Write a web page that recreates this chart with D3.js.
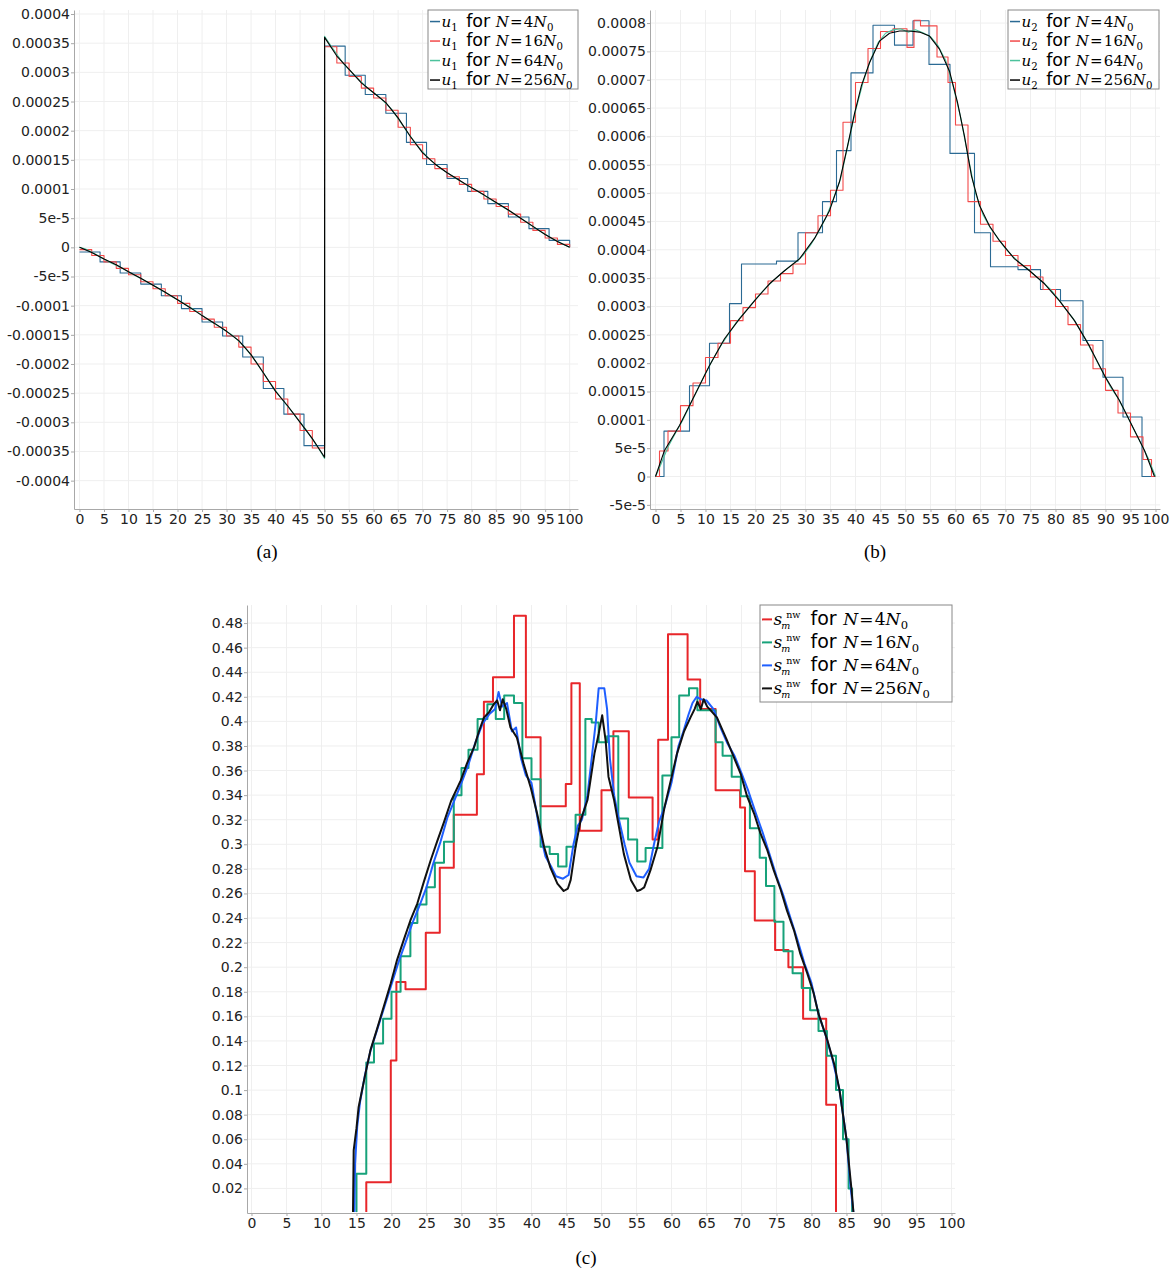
<html>
<head>
  <title>Mesh convergence</title>
  <script src="https://d3js.org/d3.v7.min.js"></script>
  <style>
    body { margin: 0; background: #fff; }
  </style>
</head>
<body>
<svg id="chart" width="1176" height="1274"></svg>
<script>

// ---- ticks ----
const xTickVals = [0,5,10,15,20,25,30,35,40,45,50,55,60,65,70,75,80,85,90,95,100];
const xTickLabels = ["0","5","10","15","20","25","30","35","40","45","50","55","60","65","70","75","80","85","90","95","100"];

const yTicksA = [0.0004,0.00035,0.0003,0.00025,0.0002,0.00015,0.0001,0.00005,0,-0.00005,-0.0001,-0.00015,-0.0002,-0.00025,-0.0003,-0.00035,-0.0004];
const yLabelsA = ["0.0004","0.00035","0.0003","0.00025","0.0002","0.00015","0.0001","5e-5","0","-5e-5","-0.0001","-0.00015","-0.0002","-0.00025","-0.0003","-0.00035","-0.0004"];

const yTicksB = [0.0008,0.00075,0.0007,0.00065,0.0006,0.00055,0.0005,0.00045,0.0004,0.00035,0.0003,0.00025,0.0002,0.00015,0.0001,0.00005,0,-0.00005];
const yLabelsB = ["0.0008","0.00075","0.0007","0.00065","0.0006","0.00055","0.0005","0.00045","0.0004","0.00035","0.0003","0.00025","0.0002","0.00015","0.0001","5e-5","0","-5e-5"];

const yTicksC = [0.48,0.46,0.44,0.42,0.4,0.38,0.36,0.34,0.32,0.3,0.28,0.26,0.24,0.22,0.2,0.18,0.16,0.14,0.12,0.1,0.08,0.06,0.04,0.02];
const yLabelsC = ["0.48","0.46","0.44","0.42","0.4","0.38","0.36","0.34","0.32","0.3","0.28","0.26","0.24","0.22","0.2","0.18","0.16","0.14","0.12","0.1","0.08","0.06","0.04","0.02"];

// ---- panel (a): u1 ----
const u1_4 = [[0,-0.000008],[4.2,-0.000025],[8.3,-0.000044],[12.5,-0.000063],[16.7,-0.000083],[20.8,-0.000105],[25,-0.000128],[29.2,-0.000152],[33.3,-0.000188],[37.5,-0.000242],[41.7,-0.000286],[45.8,-0.00034],[50,0.000345],[54.2,0.000295],[58.3,0.000262],[62.5,0.00023],[66.7,0.00018],[70.8,0.000142],[75,0.000118],[79.2,0.000096],[83.3,0.000075],[87.5,0.000052],[91.7,0.000032],[95.8,0.000012],[100,0]];
const u1_16 = [[0,-0.000004],[2.5,-0.000014],[5,-0.000025],[7.5,-0.000036],[10,-0.000047],[12.5,-0.000059],[15,-0.000071],[17.5,-0.000083],[20,-0.000096],[22.5,-0.00011],[25,-0.000123],[27.5,-0.000137],[30,-0.000152],[32.5,-0.000171],[35,-0.0002],[37.5,-0.00023],[40,-0.00026],[42.5,-0.000286],[45,-0.000314],[47.5,-0.000344],[50,0.000344],[52.5,0.000316],[55,0.000293],[57.5,0.000273],[60,0.000256],[62.5,0.000235],[65,0.000206],[67.5,0.000176],[70,0.000152],[72.5,0.000135],[75,0.000121],[77.5,0.000108],[80,0.000096],[82.5,0.000083],[85,0.00007],[87.5,0.000057],[90,0.000043],[92.5,0.000029],[95,0.000016],[97.5,0.000005],[100,0]];
const u1_64 = [[0,0],[1.25,-0.000003],[3.75,-0.000014],[6.25,-0.000026],[8.75,-0.000036],[11.25,-0.000048],[13.75,-0.000059],[16.25,-0.000071],[18.75,-0.000084],[21.25,-0.000096],[23.75,-0.000109],[26.25,-0.000124],[28.75,-0.000137],[31.25,-0.000151],[33.75,-0.000171],[36.25,-0.000199],[38.75,-0.000231],[41.25,-0.00026],[43.75,-0.000286],[46.25,-0.000313],[48.75,-0.000344],[50,-0.000362],[50,0.000362],[51.25,0.000346],[53.75,0.000316],[56.25,0.000294],[58.75,0.000273],[61.25,0.000257],[63.75,0.000236],[66.25,0.000205],[68.75,0.000176],[71.25,0.000152],[73.75,0.000135],[76.25,0.000121],[78.75,0.000108],[81.25,0.000096],[83.75,0.000083],[86.25,0.00007],[88.75,0.000057],[91.25,0.000043],[93.75,0.000029],[96.25,0.000016],[98.75,0.000005],[100,0]];
const u1_256 = [[0,0],[2.5,-0.000009],[5,-0.00002],[7.5,-0.00003],[10,-0.000042],[12.5,-0.000053],[15,-0.000065],[17.5,-0.000077],[20,-0.00009],[22.5,-0.000103],[25,-0.000117],[27.5,-0.00013],[30,-0.000144],[32.5,-0.00016],[35,-0.000184],[37.5,-0.000215],[40,-0.000247],[42.5,-0.000272],[45,-0.0003],[47.5,-0.000328],[50,-0.00036],[50,0.00036],[52.5,0.000328],[55,0.000305],[57.5,0.000282],[60,0.000265],[62.5,0.000248],[65,0.000222],[67.5,0.00019],[70,0.000162],[72.5,0.000143],[75,0.000128],[77.5,0.000115],[80,0.000102],[82.5,0.00009],[85,0.000077],[87.5,0.000064],[90,0.00005],[92.5,0.000036],[95,0.000022],[97.5,0.00001],[100,0]];

// ---- panel (b): u2 ----
const u2_4 = [[0,0],[1.7,0.00008],[6.8,0.00016],[10.8,0.000235],[14.8,0.000305],[17.2,0.000375],[24.2,0.00038],[28.5,0.00043],[33.4,0.000485],[36.2,0.000575],[39.1,0.000712],[43.5,0.000796],[47.8,0.000761],[51.5,0.000804],[54.7,0.000727],[58.9,0.00057],[63.8,0.00043],[67,0.00037],[72.5,0.000365],[77,0.00033],[81,0.00031],[85.5,0.00024],[89.5,0.000175],[93.5,0.000105],[97.3,0],[100,0]];
const u2_16 = [[0,0],[0.8,0.000045],[2.5,0.00008],[5,0.000125],[7.5,0.000165],[10,0.00021],[12.5,0.000235],[15,0.000275],[17.5,0.000298],[20,0.000322],[22.5,0.000345],[25,0.000358],[27.5,0.000375],[30,0.00043],[32.5,0.00046],[35,0.000505],[37.5,0.000625],[40,0.000695],[42.5,0.000755],[45,0.000785],[47.5,0.00079],[50.3,0.000757],[51.7,0.000805],[53,0.000795],[56.3,0.00074],[58.5,0.000695],[60,0.00062],[62.5,0.000485],[65,0.000445],[67.5,0.000415],[70,0.00039],[72.5,0.000372],[75,0.000352],[77.5,0.00033],[80,0.0003],[82.5,0.000268],[85,0.000232],[87.5,0.00019],[90,0.000152],[92.5,0.000112],[95,0.00007],[97.5,0.00003],[99.2,0],[100,0]];
const u2_64 = [[0,0],[1,0.00002],[2.5,0.000052],[4,0.000077],[5.5,0.0001],[7,0.000128],[8.5,0.000155],[10,0.000182],[11.5,0.000207],[13,0.00023],[14.5,0.00025],[16,0.00027],[17.5,0.000286],[19,0.000302],[20.5,0.000318],[22,0.000332],[23.5,0.000345],[25,0.000357],[26.5,0.000368],[28,0.000378],[29.5,0.00039],[31,0.000408],[32.5,0.00043],[34,0.000455],[35.5,0.000488],[37,0.000525],[38.5,0.000585],[40,0.000645],[41.5,0.000695],[43,0.000735],[44.5,0.000765],[46,0.000782],[47.5,0.000788],[49,0.00079],[50.5,0.000784],[52,0.000788],[53.5,0.000783],[55,0.000776],[56.5,0.00076],[58,0.000735],[59.5,0.00069],[61,0.000635],[62.5,0.000565],[64,0.0005],[65.5,0.000462],[67,0.000438],[68.5,0.00042],[70,0.000402],[71.5,0.000388],[73,0.000376],[74.5,0.000366],[76,0.000354],[77.5,0.000343],[79,0.00033],[80.5,0.000314],[82,0.000296],[83.5,0.000279],[85,0.000258],[86.5,0.000234],[88,0.000208],[89.5,0.000183],[91,0.000158],[92.5,0.000138],[94,0.000113],[95.5,0.000086],[97,0.00006],[98.5,0.000033],[100,0]];
const u2_256 = [[0,0],[1.8,0.000046],[4.8,0.00009],[7.8,0.000143],[10.8,0.000196],[13.8,0.000243],[16.8,0.000278],[19.8,0.00031],[22.8,0.00034],[25.8,0.000363],[28.8,0.000384],[31.8,0.00042],[34.8,0.000469],[36.8,0.00052],[38.4,0.000583],[39.8,0.00064],[41.2,0.00069],[42.8,0.00073],[44.8,0.000768],[46.8,0.000782],[48.8,0.000786],[50.8,0.000786],[52.8,0.000784],[54.8,0.000777],[56.8,0.000754],[58.8,0.000715],[60.4,0.00066],[61.8,0.0006],[63.2,0.00053],[64.8,0.000478],[66.8,0.000442],[68.8,0.000416],[71.8,0.000384],[74.8,0.000363],[77.8,0.00034],[80.8,0.00031],[83.8,0.000275],[86.8,0.00023],[89.8,0.000178],[92.8,0.000134],[95.8,0.000081],[97.8,0.000046],[99.8,0]];

// ---- panel (c): s_m^nw ----
const s_4 = [[16.4,0],[16.4,0.025],[19.9,0.124],[20.7,0.188],[22.0,0.182],[24.9,0.228],[26.9,0.281],[28.9,0.324],[32.2,0.357],[33.2,0.416],[34.5,0.436],[37.5,0.486],[39.2,0.387],[41.3,0.331],[44.9,0.349],[45.7,0.431],[46.9,0.311],[50.0,0.344],[51.7,0.392],[53.9,0.338],[57.3,0.304],[58.1,0.385],[59.5,0.471],[62.3,0.434],[64.1,0.41],[66.3,0.344],[69.8,0.330],[70.5,0.278],[71.9,0.238],[74.8,0.214],[76.7,0.200],[78.8,0.158],[82.1,0.088],[83.5,0],[83.6,0]];
const s_16 = [[15,0],[15,0.032],[16.4,0.1225],[17.5,0.138],[18.8,0.158],[20,0.180],[21.3,0.209],[22.7,0.236],[23.7,0.251],[25,0.265],[26.2,0.285],[27.5,0.302],[28.9,0.340],[30,0.362],[31,0.377],[32.3,0.402],[33.7,0.414],[34.9,0.402],[36.1,0.421],[37.5,0.415],[38.7,0.370],[40,0.353],[41.3,0.298],[42.6,0.292],[43.8,0.282],[45,0.298],[46.3,0.324],[47.7,0.402],[48.6,0.399],[49.6,0.383],[50.8,0.388],[52.4,0.321],[53.8,0.304],[55.1,0.286],[56.3,0.297],[58.7,0.356],[60,0.387],[61.1,0.421],[62.5,0.427],[63.7,0.409],[66.3,0.383],[67.3,0.372],[68.6,0.355],[69.9,0.339],[71.2,0.313],[72.6,0.289],[73.5,0.266],[74.7,0.237],[76.0,0.213],[77.3,0.195],[78.6,0.183],[79.8,0.165],[81,0.148],[82.2,0.128],[83.5,0.10],[84.5,0.06],[85.3,0.02],[85.8,0],[85.9,0]];
const s_64 = [[14.7,0],[14.8,0.04],[15.1,0.07],[15.5,0.09],[16.2,0.112],[17,0.132],[18,0.15],[19,0.168],[20,0.186],[21,0.204],[22,0.22],[23,0.236],[24,0.25],[25,0.265],[26,0.285],[27,0.302],[28,0.322],[29,0.336],[30,0.35],[31,0.365],[32,0.383],[33,0.398],[34,0.406],[34.8,0.41],[35.3,0.424],[35.8,0.412],[36.5,0.415],[37.2,0.392],[37.8,0.395],[38.5,0.37],[39.2,0.356],[40,0.35],[40.6,0.33],[41.2,0.31],[42,0.29],[42.8,0.282],[43.5,0.274],[44.5,0.272],[45.3,0.275],[46,0.30],[46.6,0.315],[47.2,0.32],[48,0.34],[48.6,0.37],[49.2,0.40],[49.6,0.427],[50.4,0.427],[50.8,0.41],[51.2,0.37],[51.8,0.34],[52.5,0.32],[53.3,0.3],[54,0.285],[55,0.274],[56,0.273],[56.8,0.28],[57.5,0.3],[58.2,0.318],[59,0.33],[60,0.35],[61,0.38],[61.6,0.39],[62.4,0.405],[63,0.415],[63.6,0.42],[64.2,0.418],[65,0.417],[66,0.41],[67,0.395],[68,0.382],[69,0.372],[70,0.358],[71,0.343],[72,0.326],[73,0.31],[74,0.292],[75,0.274],[76,0.258],[77,0.24],[78,0.222],[79,0.203],[80,0.187],[81,0.162],[82,0.145],[83,0.125],[84,0.1],[85,0.06],[85.6,0.02],[86,0]];
const s_256 = [[14.5,0],[14.6,0.051],[15.0,0.069],[15.3,0.086],[16.3,0.114],[17.0,0.1325],[17.9,0.149],[18.9,0.168],[19.9,0.187],[20.8,0.206],[21.8,0.223],[22.7,0.238],[23.7,0.252],[24.6,0.269],[25.6,0.287],[26.5,0.302],[27.5,0.318],[28.5,0.335],[29.9,0.352],[30.8,0.366],[31.8,0.379],[32.5,0.392],[33.2,0.403],[34.0,0.408],[34.6,0.414],[35.1,0.417],[35.5,0.409],[35.9,0.418],[36.4,0.41],[37.0,0.395],[37.9,0.387],[38.9,0.365],[39.9,0.346],[40.8,0.325],[41.8,0.298],[42.7,0.281],[43.7,0.268],[44.6,0.262],[45.2,0.264],[45.6,0.271],[46.3,0.298],[47.0,0.319],[48.0,0.336],[49.0,0.374],[49.6,0.39],[50.1,0.405],[50.6,0.384],[51.0,0.355],[51.8,0.336],[52.5,0.314],[53.2,0.292],[54.2,0.271],[55.1,0.262],[55.6,0.263],[56.1,0.265],[57.0,0.279],[58.0,0.298],[59.0,0.330],[59.9,0.352],[60.8,0.374],[61.8,0.392],[62.7,0.403],[63.3,0.41],[63.7,0.416],[64.2,0.41],[64.6,0.418],[65.1,0.412],[65.6,0.409],[66.5,0.403],[67.9,0.385],[68.9,0.371],[69.9,0.357],[70.8,0.339],[71.8,0.325],[72.7,0.309],[73.7,0.295],[74.6,0.279],[75.6,0.263],[76.5,0.246],[77.5,0.230],[78.4,0.211],[79.4,0.195],[80.3,0.179],[81,0.162],[82.3,0.14],[83.3,0.12],[84,0.10],[85,0.06],[85.7,0.02],[86,0]];

const legendMeshes = ["4", "16", "64", "256"];

const svg = d3.select("#chart");
const SANS = "DejaVu Sans";
const SERIF = "Liberation Serif";
const MATH = "DejaVu Serif";

function drawPanel(p) {
  const x = d3.scaleLinear().domain(p.xDomain).range([p.left, p.right]);
  const y = d3.scaleLinear().domain(p.yDomain).range([p.bottom, p.top]);
  const g = svg.append("g");

  // grid
  g.append("g").selectAll("line").data(xTickVals).join("line")
    .attr("x1", d => x(d)).attr("x2", d => x(d))
    .attr("y1", p.top).attr("y2", p.bottom)
    .attr("stroke", "#efefef");
  g.append("g").selectAll("line").data(p.yTicks).join("line")
    .attr("x1", p.left).attr("x2", p.right)
    .attr("y1", d => y(d)).attr("y2", d => y(d))
    .attr("stroke", "#efefef");

  // axes
  const xAxis = d3.axisBottom(x).tickValues(xTickVals)
    .tickFormat((d, i) => xTickLabels[i]).tickSize(3).tickSizeOuter(0).tickPadding(2);
  const yAxis = d3.axisLeft(y).tickValues(p.yTicks)
    .tickFormat((d, i) => p.yLabels[i]).tickSize(3).tickSizeOuter(0).tickPadding(1);

  const gx = g.append("g").attr("transform", "translate(0," + p.bottom + ")").call(xAxis);
  const gy = g.append("g").attr("transform", "translate(" + p.left + ",0)").call(yAxis);
  [gx, gy].forEach(a => {
    a.select(".domain").attr("stroke", "#a8a8a8");
    a.selectAll(".tick line").attr("stroke", "#a8a8a8");
    a.selectAll(".tick text").attr("fill", "#222")
      .style("font-family", SANS).style("font-size", "14px");
  });

  // series
  const clipId = "clip-" + p.id;
  svg.append("clipPath").attr("id", clipId).append("rect")
    .attr("x", p.left).attr("y", p.top - 2)
    .attr("width", p.right - p.left).attr("height", p.bottom - p.top + 1);
  const lg = g.append("g").attr("clip-path", "url(#" + clipId + ")");
  p.series.forEach(s => {
    const line = d3.line()
      .x(d => x(d[0])).y(d => y(d[1]))
      .curve(s.step ? d3.curveStepAfter : d3.curveLinear);
    lg.append("path").datum(s.data)
      .attr("d", line)
      .attr("fill", "none")
      .attr("stroke", s.color)
      .attr("stroke-width", p.lineWidth)
      .attr("stroke-linejoin", "round");
  });

  // caption
  svg.append("text").attr("x", p.capX).attr("y", p.capY)
    .attr("text-anchor", "middle")
    .style("font-family", SERIF).style("font-size", "19px")
    .text(p.caption);
}

function putText(g, x, y, str, family, size, italic) {
  const t = g.append("text").attr("x", x).attr("y", y)
    .style("font-family", family).style("font-size", size + "px")
    .style("font-style", italic ? "italic" : "normal")
    .attr("fill", "#000")
    .text(str);
  return t.node().getComputedTextLength();
}

function drawLegend(L) {
  const g = svg.append("g");
  g.append("rect").attr("x", L.x).attr("y", L.y).attr("width", L.w).attr("height", L.h)
    .attr("fill", "#fff").attr("stroke", "#888").attr("stroke-width", 1);
  L.colors.forEach((c, i) => {
    const base = L.base0 + i * L.dy;
    const mid = base - L.fs * 0.33;
    g.append("line").attr("x1", L.x + 2).attr("x2", L.x + 12)
      .attr("y1", mid).attr("y2", mid)
      .attr("stroke", c).attr("stroke-width", L.lw);
    let cx = L.x + 13.5;
    const sm = L.fs * 0.68;
    if (L.sym === "u") {
      cx += putText(g, cx, base, "u", MATH, L.fs, true);
      cx += putText(g, cx, base + 4, L.sub, MATH, sm, false);
    } else {
      const ss = L.fs * 0.56;
      cx += putText(g, cx, base, "s", MATH, L.fs, true);
      const wSub = putText(g, cx - 1, base + 4, "m", MATH, ss, true);
      const wSup = putText(g, cx + 4, base - 7.5, "nw", MATH, ss, false);
      cx += Math.max(wSub - 1, wSup + 4);
    }
    cx += L.gap;
    cx += putText(g, cx, base, "for", SANS, L.fsSans, false);
    cx += L.gap * 0.65;
    cx += putText(g, cx, base, "N", MATH, L.fs, true) + 1.2;
    cx += putText(g, cx, base, "=", MATH, L.fs, false) + 1.2;
    cx += putText(g, cx, base, legendMeshes[i], MATH, L.fs, false);
    cx += putText(g, cx, base, "N", MATH, L.fs, true) + 0.5;
    putText(g, cx, base + 4, "0", MATH, sm, false);
  });
}

const colorsAB = ["#2b6a94", "#f24a4a", "#4cc29c", "#000000"];
const colorsC = ["#e8262a", "#17a27a", "#1f5fff", "#111111"];

drawPanel({
  id: "a", left: 74, right: 578, top: 10, bottom: 509,
  xDomain: [-1.12, 101.7], yDomain: [-0.0004486, 0.0004069],
  yTicks: yTicksA, yLabels: yLabelsA, lineWidth: 1.1,
  caption: "(a)", capX: 267, capY: 558,
  series: [
    { data: u1_4, color: colorsAB[0], step: true },
    { data: u1_16, color: colorsAB[1], step: true },
    { data: u1_64, color: colorsAB[2], step: false },
    { data: u1_256, color: colorsAB[3], step: false }
  ]
});

drawPanel({
  id: "b", left: 650, right: 1160, top: 10, bottom: 509,
  xDomain: [-1.1, 100.9], yDomain: [-0.0000573, 0.000823],
  yTicks: yTicksB, yLabels: yLabelsB, lineWidth: 1.1,
  caption: "(b)", capX: 875, capY: 558,
  series: [
    { data: u2_4, color: colorsAB[0], step: true },
    { data: u2_16, color: colorsAB[1], step: true },
    { data: u2_64, color: colorsAB[2], step: false },
    { data: u2_256, color: colorsAB[3], step: false }
  ]
});

drawPanel({
  id: "c", left: 247, right: 955, top: 605, bottom: 1213,
  xDomain: [-0.64, 100.5], yDomain: [0, 0.4947],
  yTicks: yTicksC, yLabels: yLabelsC, lineWidth: 2,
  caption: "(c)", capX: 586, capY: 1264,
  series: [
    { data: s_4, color: colorsC[0], step: true },
    { data: s_16, color: colorsC[1], step: true },
    { data: s_64, color: colorsC[2], step: false },
    { data: s_256, color: colorsC[3], step: false }
  ]
});

drawLegend({ x: 428, y: 10, w: 150, h: 79, base0: 26.5, dy: 19.5, fs: 15, fsSans: 17.5,
  gap: 8.5, lw: 1.5, sym: "u", sub: "1", colors: colorsAB });
drawLegend({ x: 1008, y: 10, w: 151, h: 79, base0: 26.5, dy: 19.5, fs: 15, fsSans: 17.5,
  gap: 8.5, lw: 1.5, sym: "u", sub: "2", colors: colorsAB });
drawLegend({ x: 760, y: 605, w: 192, h: 97, base0: 625, dy: 23, fs: 17, fsSans: 19,
  gap: 10, lw: 2, sym: "s", colors: colorsC });

</script>
</body>
</html>
